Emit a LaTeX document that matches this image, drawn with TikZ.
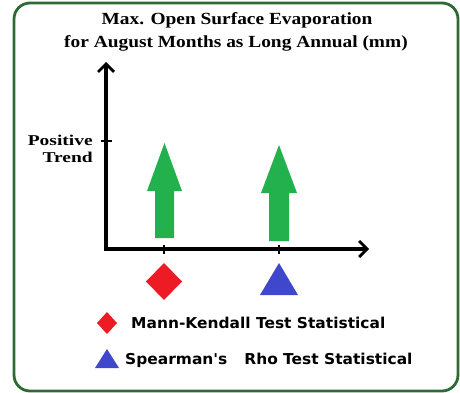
\documentclass[tikz,border=0pt]{standalone}
\usepackage{fontspec}
\setmainfont{Liberation Serif}
\newfontfamily\legfont{DejaVu Sans}
\usetikzlibrary{arrows.meta}
\definecolor{framegreen}{HTML}{2E6B34}
\definecolor{arrgreen}{HTML}{22B14C}
\definecolor{mkred}{HTML}{ED1C24}
\definecolor{srblue}{HTML}{3F48CC}
\tikzset{
  axisline/.style={line width=3.4pt,-{Straight Barb[length=8pt,width=16pt,line width=2.8pt]}},
  tickline/.style={line width=2.8pt},
  trendarrow/.style={fill=arrgreen,draw=none},
  titletext/.style={font=\fontsize{17}{20}\selectfont\bfseries,align=center,xscale=1.14},
  ylabel/.style={font=\fontsize{15}{17}\selectfont\bfseries,align=right,xscale=1.3},
  legtext/.style={font=\legfont\fontsize{15}{18}\selectfont\bfseries,anchor=west,inner sep=0pt,xscale=1.03},
}
\begin{document}
\begin{tikzpicture}[x=1pt,y=-1pt]
\useasboundingbox (0,0) rectangle (460,393);
\draw[framegreen,line width=2.8pt,rounded corners=16pt] (14,3) rectangle (458,391);
% title
\node[titletext] (title1) at (237,20) {Max. Open Surface Evaporation};
\node[titletext] (title2) at (236,43) {for August Months as Long Annual (mm)};
% axes
\coordinate (origin) at (106,249);
\coordinate (ytop) at (106,62);
\coordinate (xend) at (369,249);
\draw[axisline] (origin) -- (ytop);
\draw[axisline] ([xshift=-1.7pt]origin) -- (xend);
% y tick
\coordinate (yt) at (106,141);
\draw[tickline] ([xshift=-5pt]yt) -- ([xshift=6pt]yt);
\node[ylabel,anchor=east,inner sep=0pt] (ylab) at (93,149) {Positive\\Trend};
% x ticks
\coordinate (xt1) at (164,249);
\coordinate (xt2) at (279,249);
\draw[tickline] ([yshift=-4.5pt]xt1) -- ([yshift=4.5pt]xt1);
\draw[tickline] ([yshift=-4.5pt]xt2) -- ([yshift=4.5pt]xt2);
% green arrows
\fill[trendarrow] (155,238) -- (155,191) -- (147,191) -- (164.5,143) -- (182,191) -- (174,191) -- (174,238) -- cycle;
\fill[trendarrow] (269,241) -- (269,193) -- (261,193) -- (279,145) -- (297,193) -- (289,193) -- (289,241) -- cycle;
% markers
\fill[mkred] (164,263) -- (182,281.5) -- (164,300) -- (146,281.5) -- cycle;
\fill[srblue] (279,263) -- (298,295) -- (260,295) -- cycle;
% legend
\fill[mkred] (107,312) -- (117,323) -- (107,334) -- (97,323) -- cycle;
\node[legtext] (leg1) at (131,323) {Mann-Kendall Test Statistical};
\fill[srblue] (107,349) -- (119,368) -- (95,368) -- cycle;
\node[legtext] (leg2) at (125,360) {Spearman's\hspace{1.1em}Rho Test Statistical};
\end{tikzpicture}
\end{document}
